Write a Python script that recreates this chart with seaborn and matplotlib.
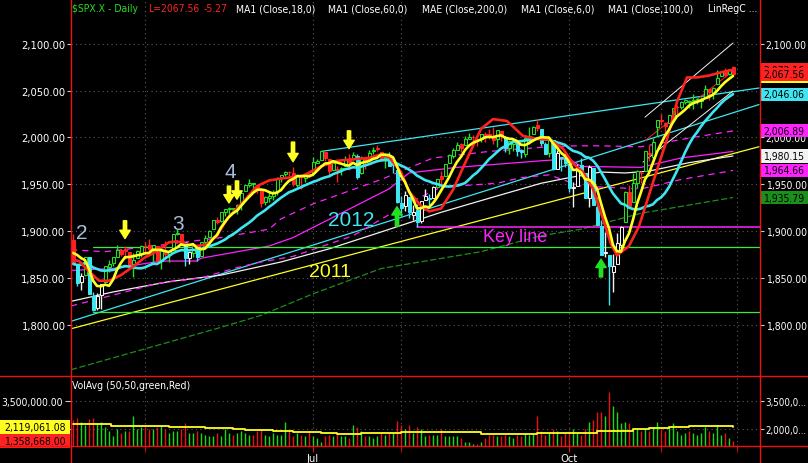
import numpy as np
import pandas as pd
import matplotlib
matplotlib.use('Agg')
import matplotlib.pyplot as plt
import matplotlib.transforms as mtransforms
from matplotlib.patches import Rectangle
from matplotlib.lines import Line2D
from matplotlib import font_manager
import seaborn as sns

# ---- values: $SPX.X daily, 2014-04-04 .. 2014-11-28 ----
# closes just before the window, only needed to start the 6 and 18 day averages
prior_closes = [1877.17, 1867.63, 1868.20, 1846.34, 1841.13, 1858.83, 1872.25, 1860.77, 1872.01, 1866.52,
                1857.44, 1865.62, 1852.56, 1849.04, 1857.62, 1872.34, 1885.52, 1890.90, 1888.77]

opens = [
    1890.9, 1863.9, 1845.5, 1852.6, 1872.3, 1830.7, 1818.2, 1831.4, 1846.0, 1861.7, 1865.8, 1872.6, 1879.3, 1881.0, 1877.7, 1865.0, 1870.8, 1877.1,
    1884.4, 1885.3, 1879.5, 1883.7, 1868.5, 1877.4, 1875.3, 1880.0, 1896.8, 1897.1, 1888.2, 1871.2, 1876.7, 1884.9, 1873.3, 1888.2, 1893.3, 1902.0, 1911.8, 1910.6, 1920.3,
    1923.9, 1923.1, 1923.1, 1928.5, 1942.4, 1948.9, 1950.3, 1949.4, 1943.4, 1930.8, 1934.8, 1937.2, 1942.7, 1957.5, 1960.5, 1962.9, 1961.6, 1949.3, 1959.9, 1956.6, 1960.8,
    1962.3, 1973.1, 1975.9, 1984.2, 1976.4, 1965.1, 1966.7, 1965.8, 1969.9, 1977.4, 1976.4, 1979.8, 1961.5, 1976.9, 1975.7, 1985.3, 1988.1, 1984.6, 1978.3, 1980.0, 1973.2, 1965.1,
    1929.8, 1926.6, 1936.3, 1917.3, 1923.0, 1910.4, 1933.4, 1935.7, 1935.6, 1947.4, 1958.9, 1958.4, 1972.7, 1980.5, 1986.8, 1992.6, 1991.7, 1998.6, 2000.5, 1997.4, 1998.5,
    2004.1, 2003.6, 2001.7, 1998.0, 2007.2, 2000.7, 1988.4, 1992.9, 1996.7, 1986.0, 1981.9, 1999.3, 2003.1, 2012.7, 2009.1, 1992.8, 1983.3, 1997.3, 1966.2, 1978.0, 1978.2,
    1971.4, 1945.8, 1948.1, 1970.0, 1962.4, 1935.6, 1967.7, 1925.6, 1905.7, 1877.1, 1874.2, 1855.9, 1864.9, 1885.6, 1909.4, 1941.3, 1931.0, 1951.6, 1962.0, 1964.1, 1983.3, 1979.5, 2011.1,
    2018.2, 2015.8, 2015.3, 2023.3, 2032.4, 2032.0, 2038.2, 2037.8, 2039.2, 2039.7, 2038.3, 2041.5, 2051.2, 2045.9, 2057.5, 2065.1, 2070.2, 2067.4, 2074.8,
]
highs = [
    1897.3, 1864.0, 1854.9, 1872.4, 1872.5, 1835.1, 1834.2, 1844.0, 1862.3, 1869.6, 1871.9, 1884.9, 1879.8, 1884.1, 1877.7, 1877.0, 1880.0, 1885.2,
    1888.6, 1891.3, 1885.5, 1883.7, 1878.8, 1889.1, 1878.8, 1897.1, 1902.2, 1897.1, 1888.2, 1878.3, 1886.0, 1884.9, 1888.8, 1896.3, 1901.3, 1912.3, 1914.5, 1920.0, 1924.0,
    1925.9, 1925.1, 1928.6, 1941.7, 1949.4, 1955.6, 1950.9, 1949.4, 1943.4, 1937.3, 1941.2, 1943.7, 1957.7, 1959.9, 1963.9, 1963.7, 1968.2, 1960.8, 1959.9, 1961.0, 1962.3,
    1978.6, 1976.7, 1985.6, 1984.2, 1976.4, 1974.2, 1969.8, 1968.7, 1979.8, 1982.5, 1983.9, 1981.8, 1979.9, 1976.9, 1986.2, 1989.2, 1991.4, 1984.6, 1981.5, 1984.9, 1978.9, 1965.1,
    1937.4, 1942.9, 1936.3, 1927.9, 1928.9, 1932.4, 1944.9, 1939.7, 1948.4, 1955.2, 1964.0, 1971.9, 1982.6, 1988.6, 1994.8, 1993.5, 2001.9, 2005.0, 2002.1, 1998.6, 2003.4,
    2006.1, 2009.3, 2011.2, 2007.7, 2007.2, 2001.0, 1996.7, 1997.7, 1996.7, 1987.2, 2002.3, 2010.7, 2012.3, 2019.3, 2009.1, 1995.4, 1999.8, 1997.3, 1986.4, 1978.8, 1985.2,
    1971.4, 1952.3, 1971.2, 1977.8, 1962.4, 1970.4, 1967.7, 1936.0, 1912.1, 1898.7, 1874.2, 1876.0, 1898.2, 1905.0, 1942.5, 1949.3, 1961.9, 1965.3, 1964.6, 1985.1, 1991.4, 1999.4, 2018.2,
    2024.5, 2016.0, 2023.8, 2031.6, 2034.3, 2038.7, 2041.3, 2040.3, 2046.2, 2042.2, 2043.1, 2056.1, 2052.1, 2053.8, 2071.5, 2070.2, 2074.2, 2073.3, 2075.8,
]
lows = [
    1863.3, 1841.5, 1837.5, 1852.4, 1833.0, 1814.4, 1815.8, 1816.3, 1846.0, 1856.7, 1863.2, 1872.6, 1873.9, 1870.2, 1859.7, 1850.6, 1870.8, 1872.7,
    1878.0, 1878.5, 1866.8, 1867.7, 1859.8, 1870.0, 1867.0, 1880.0, 1896.1, 1885.8, 1862.4, 1864.8, 1872.4, 1868.1, 1873.3, 1885.4, 1893.3, 1902.0, 1907.3, 1909.8, 1916.6,
    1915.9, 1918.8, 1918.6, 1922.9, 1942.4, 1947.2, 1944.6, 1940.1, 1925.8, 1927.7, 1930.9, 1933.6, 1938.2, 1952.3, 1959.2, 1958.9, 1948.3, 1947.5, 1944.7, 1952.2, 1957.6,
    1962.3, 1972.6, 1975.9, 1974.9, 1959.5, 1965.1, 1952.9, 1959.6, 1969.9, 1965.3, 1975.7, 1955.6, 1960.8, 1965.8, 1975.7, 1982.4, 1985.8, 1974.4, 1967.3, 1969.9, 1962.4, 1930.0,
    1916.4, 1921.2, 1913.8, 1911.5, 1904.8, 1909.0, 1933.4, 1928.3, 1935.6, 1947.4, 1941.5, 1958.4, 1972.7, 1977.7, 1986.8, 1984.8, 1991.7, 1998.6, 1996.2, 1990.5, 1994.7,
    1994.9, 1998.1, 1992.4, 1990.1, 1995.6, 1984.6, 1982.3, 1985.9, 1980.3, 1978.5, 1979.1, 1993.3, 2003.1, 2006.6, 1991.0, 1982.4, 1978.6, 1965.7, 1966.2, 1964.1, 1968.0,
    1941.7, 1926.0, 1948.1, 1958.4, 1935.1, 1925.2, 1927.6, 1906.1, 1874.1, 1871.8, 1820.7, 1835.0, 1864.9, 1882.3, 1909.4, 1927.1, 1931.0, 1946.3, 1951.4, 1964.1, 1974.8, 1974.2, 2001.0,
    2013.7, 2001.0, 2015.3, 2015.9, 2025.1, 2030.2, 2035.3, 2031.3, 2030.4, 2035.2, 2031.2, 2041.5, 2040.4, 2040.5, 2056.8, 2065.1, 2064.8, 2066.6, 2065.1,
]
closes = [
    1865.09, 1845.04, 1851.96, 1872.18, 1833.08, 1815.69, 1830.61, 1842.98, 1862.31, 1864.85, 1871.89, 1879.55, 1875.39, 1878.61, 1863.40, 1869.43, 1878.33, 1883.95,
    1883.68, 1881.14, 1884.66, 1867.72, 1878.21, 1875.63, 1878.48, 1896.65, 1897.45, 1888.53, 1870.85, 1877.86, 1885.08, 1872.83, 1888.03, 1892.49, 1900.53, 1911.91, 1909.78, 1920.03, 1923.57,
    1924.97, 1924.24, 1927.88, 1940.46, 1949.44, 1951.27, 1950.79, 1943.89, 1930.11, 1936.16, 1937.78, 1941.99, 1956.98, 1959.48, 1962.87, 1962.61, 1949.98, 1959.53, 1957.22, 1960.96, 1960.23,
    1973.32, 1974.62, 1985.44, 1977.65, 1963.71, 1972.83, 1964.68, 1967.57, 1977.10, 1973.28, 1981.57, 1958.12, 1978.22, 1973.63, 1983.53, 1987.01, 1987.98, 1978.34, 1978.91, 1969.95, 1970.07, 1930.67,
    1925.15, 1938.99, 1920.21, 1920.24, 1909.57, 1931.59, 1936.92, 1933.75, 1946.72, 1955.18, 1955.06, 1971.74, 1981.60, 1986.51, 1992.37, 1988.40, 1997.92, 2000.02, 2000.12, 1996.74, 2003.37,
    2002.28, 2000.72, 1997.65, 2007.71, 2001.54, 1988.44, 1995.69, 1997.45, 1985.54, 1984.13, 1998.98, 2001.57, 2011.36, 2010.40, 1994.29, 1982.77, 1998.30, 1965.99, 1982.85, 1977.80, 1972.29,
    1946.16, 1946.17, 1967.90, 1964.82, 1935.10, 1968.89, 1928.21, 1906.13, 1874.74, 1877.70, 1862.49, 1862.76, 1886.76, 1904.01, 1941.28, 1927.11, 1950.82, 1964.58, 1961.63, 1985.05, 1982.30, 1994.65, 2018.05,
    2017.81, 2012.10, 2023.57, 2031.21, 2031.92, 2038.26, 2039.68, 2038.25, 2039.33, 2039.82, 2041.32, 2051.80, 2048.72, 2052.75, 2063.50, 2069.41, 2067.03, 2072.83, 2067.56,
]
# volume in millions (chart units)
volume_m = [
    2.5, 2.6, 2.4, 2.2, 2.55, 2.6, 2.3, 2.4, 2.1, 1.9, 1.6, 2.0, 1.8, 1.9, 1.9, 2.7, 2.0, 2.1,
    2.1, 2.0, 2.0, 2.1, 2.2, 2.0, 1.8, 1.9, 1.9, 2.0, 2.3, 1.8, 1.8, 1.9, 1.8, 1.7, 1.6, 1.6, 1.8, 1.6, 2.0,
    1.8, 1.7, 1.8, 1.9, 1.8, 1.7, 1.7, 1.9, 2.0, 1.7, 1.6, 1.8, 1.7, 1.7, 2.35, 1.9, 1.6, 1.8, 1.7, 1.6, 1.9,
    1.6, 1.5, 1.3, 1.6, 1.7, 1.6, 1.8, 1.6, 1.6, 1.5, 2.2, 2.1, 1.9, 1.6, 1.6, 1.5, 1.6, 1.8, 1.7, 1.8, 1.8, 2.45,
    2.2, 2.0, 2.2, 1.8, 2.1, 2.0, 1.6, 1.7, 1.7, 1.7, 2.0, 1.6, 1.6, 1.6, 1.6, 1.5, 1.3, 1.3, 1.2, 1.2, 1.3,
    1.5, 1.7, 1.7, 1.6, 1.6, 1.7, 1.6, 1.5, 1.7, 1.6, 1.8, 1.7, 1.8, 2.7, 1.9, 1.7, 1.8, 2.0, 1.9, 1.6, 1.8,
    1.9, 2.0, 1.8, 1.7, 2.0, 2.4, 2.5, 2.9, 2.9, 2.7, 4.0, 3.25, 2.9, 2.3, 2.4, 2.3, 2.0, 2.0, 1.9, 2.0, 1.9, 2.1, 2.35,
    2.0, 1.9, 2.1, 2.3, 1.9, 1.7, 1.8, 1.9, 1.8, 1.7, 1.8, 2.1, 1.9, 1.8, 2.2, 1.7, 1.8, 1.5, 1.358668,
]
volavg_i = [0, 9.5, 24, 33, 40, 43, 50, 55, 62, 66, 72, 82, 95, 102, 116, 124, 131, 140, 144, 149, 154, 165]
volavg_v = [2.27, 2.14, 2.09, 2.03, 2.0, 1.94, 1.87, 1.82, 1.78, 1.73, 1.77, 1.86, 1.82, 1.73, 1.77, 1.78,
            1.87, 2.0, 2.04, 2.09, 2.14, 2.11906108]

# indicator lines that need more history than the window: (bar index, price)
red_i = [-0.5, 1.5, 4, 6.5, 9, 12, 15, 18, 20, 24, 26, 28.5, 31, 33.5, 36, 38.5, 42.5, 46, 49, 52, 57.5, 62, 66,
         71, 74, 77, 79, 82, 84, 87, 89, 92, 95, 98.5, 102, 105, 108.5, 112.5, 116.5, 119, 122.5, 125, 127.5,
         130, 132.5, 134.5, 136, 139, 141.5, 145, 148.5, 151, 153.5, 156, 159, 162.5, 165]
red_v = [1870, 1868, 1857, 1847, 1847, 1853, 1862, 1872, 1876, 1888, 1889, 1886, 1884, 1886, 1895, 1913, 1931,
         1948, 1954, 1956, 1959, 1969, 1975, 1977, 1978, 1982, 1979, 1963, 1942, 1927, 1921, 1924, 1944, 1977,
         2009, 2019.5, 2017.5, 2001.5, 1998, 1998, 1988, 1972, 1963, 1945, 1913, 1886, 1874, 1884, 1905, 1952,
         1998, 2038, 2064, 2064, 2066, 2070, 2072.16]
ma100_i = [-0.5, 10, 24, 37, 52, 64, 77, 87, 92, 104, 117, 124, 132, 138, 144, 154, 165]
ma100_v = [1825, 1835, 1846, 1853, 1867, 1881, 1899, 1913, 1920, 1935, 1951, 1957, 1963, 1962, 1964, 1973, 1980.15]
ma200_i = [-0.5, 36, 47, 60, 77, 102, 117, 127, 142, 165]
ma200_v = [1752, 1796, 1810, 1833, 1860, 1878, 1895, 1902, 1919, 1935.79]
env_up_i = [-0.5, 8, 20, 37, 49, 52, 60, 77, 90, 104, 119, 126, 131, 142, 155, 165]
env_up_v = [1880, 1878, 1884, 1893, 1902, 1913, 1929, 1955, 1978, 1985, 1990, 1991, 1991, 1990, 2000, 2006.89]
env_mid_i = [-0.5, 10, 22, 31, 32, 49, 55, 79, 84, 96, 117, 124, 127, 142, 152, 165]
env_mid_v = [1858, 1860, 1868, 1868, 1871, 1884, 1893, 1945, 1962, 1968, 1975, 1977, 1969, 1968, 1978, 1985]
env_lo_i = [-0.5, 13, 21, 32, 41, 47, 55, 70, 84, 92, 106, 112, 119, 127, 142, 152, 165]
env_lo_v = [1820, 1835, 1844, 1850, 1861, 1867, 1873, 1895, 1930, 1947, 1951, 1957, 1960, 1948, 1945, 1955, 1964.66]

# hand drawn lines
line_2011 = ([-0.25, 171.5], [1796, 1990])
line_2012 = ([-0.25, 171.5], [1804, 2035])
channel_top = ([62, 171.5], [1985, 2052.7])
linreg_up = ([143, 165], [2021.6, 2100.7])
linreg_mid = ([143, 165], [1996.5, 2071])
linreg_lo = ([142.5, 165], [1973.6, 2049.5])
support_levels = [1883.4, 1813.7]
key_level = 1904.5
key_start = 86

wave_labels = [('2', 2.3, 1899), ('3', 26.3, 1908), ('4', 39.3, 1964)]
down_arrows = [(13, 1911, 1892), (39, 1948, 1930), (41, 1953.5, 1934), (55, 1995, 1974), (69, 2007, 1988)]
up_arrows = [(81, 1905, 1926), (132, 1851, 1870)]

# ---- style ----
sns.set_style('dark', {'axes.facecolor': 'black', 'figure.facecolor': 'black', 'axes.grid': False})
installed = {f.name for f in font_manager.fontManager.ttflist}
plain = 'Liberation Sans' if 'Liberation Sans' in installed else 'DejaVu Sans'
plt.rcParams['font.family'] = ['DejaVu Sans']
plt.rcParams['font.stretch'] = 'condensed'

GREEN = '#22e022'
RED = '#ff2222'
CYAN = '#3ee6f2'
YELLOW = '#ffff22'
WHITE = '#f2f2f2'
MAGENTA = '#ff22ff'
DKGREEN = '#1b8f1b'
FRAME = '#ee1111'
GRID = '#5a5a5a'
FS = 7.5

n = len(closes)
idx = np.arange(n)
o = np.array(opens)
h = np.array(highs)
l = np.array(lows)
c = np.array(closes)

all_close = pd.Series(prior_closes + closes)
ma6 = all_close.rolling(6).mean().to_numpy()[len(prior_closes):]
ma18 = all_close.rolling(18).mean().to_numpy()[len(prior_closes):]

dates = pd.bdate_range('2014-04-04', '2014-11-28')
holidays = pd.to_datetime(['2014-04-18', '2014-05-26', '2014-07-04', '2014-09-01', '2014-11-27'])
dates = dates[~dates.isin(holidays)]
months = dates.month
month_starts = {months[i]: i for i in range(1, n) if months[i] != months[i - 1]}
major_ticks = [month_starts[7], month_starts[10]]
minor_ticks = [month_starts[5], month_starts[8], month_starts[11], n]

fig = plt.figure(figsize=(8.08, 4.64), dpi=100)
L = 71 / 808
W = 689 / 808
ax = fig.add_axes([L, 87 / 464, W, 377 / 464])
axv = fig.add_axes([L, 17 / 464, W, 70 / 464])
XL = (-0.5, 171.75)

# ---- price panel ----
ax.set_xlim(*XL)
ax.set_ylim(1745.3, 2147.7)
price_ticks = np.arange(1800, 2101, 50)
ax.set_yticks(price_ticks)
ax.set_yticklabels([f'{v:,.2f}' for v in price_ticks])
ax.set_xticks([])
ax.tick_params(axis='y', left=True, right=True, labelleft=True, labelright=True, length=4,
               color='#c8c8c8', labelcolor='white', labelsize=FS + 0.5, pad=2)
ax.tick_params(axis='y', which='major', right=True, length=3, pad=1)
for t in ax.yaxis.get_major_ticks():
    t.label2.set_fontsize(FS)
for s in ax.spines.values():
    s.set_visible(False)
for v in price_ticks:
    ax.axhline(v, color=GRID, lw=0.8, ls=(0, (1, 3)), zorder=0.5)
for t in major_ticks + minor_ticks:
    ax.axvline(t, color=GRID, lw=0.8, ls=(0, (1, 3)), zorder=0.5)

# thin lines behind the candles
ax.plot(*line_2011, color=YELLOW, lw=0.9, zorder=2)
ax.plot(*line_2012, color=CYAN, lw=0.9, zorder=2)
ax.plot(*channel_top, color=CYAN, lw=0.9, zorder=2)
ax.plot(ma100_i, ma100_v, color=WHITE, lw=0.9, zorder=2)
ax.plot(ma200_i, ma200_v, color=DKGREEN, lw=0.9, ls=(0, (5, 2)), zorder=2)
ax.plot(env_mid_i, env_mid_v, color=MAGENTA, lw=0.9, zorder=2)
ax.plot(env_up_i, env_up_v, color=MAGENTA, lw=0.9, ls=(0, (5, 4)), zorder=2)
ax.plot(env_lo_i, env_lo_v, color=MAGENTA, lw=0.9, ls=(0, (5, 4)), zorder=2)
ax.plot(*linreg_up, color=WHITE, lw=0.7, zorder=2)
ax.plot(*linreg_lo, color=WHITE, lw=0.7, zorder=2)
ax.plot(*linreg_mid, color=RED, lw=0.7, zorder=2)
for lvl in support_levels:
    ax.plot([5, XL[1]], [lvl, lvl], color='#33ee33', lw=0.9, zorder=2)
ax.plot([key_start, XL[1]], [key_level, key_level], color=MAGENTA, lw=1.1, zorder=2)

# candles
up = c >= o
below = c < ma18
cols = np.where(up, np.where(below, WHITE, GREEN), np.where(below, CYAN, RED))
faces = np.where(up, 'black', cols)
body_lo = np.minimum(o, c)
body_h = np.maximum(np.abs(c - o), 0.8)
ax.vlines(idx, l, h, colors=list(cols), lw=1.0, zorder=3)
ax.bar(idx, body_h, bottom=body_lo, width=0.75, color=list(faces), edgecolor=list(cols),
       linewidth=0.75, zorder=3.2)

# thick averages
sns.lineplot(x=idx, y=ma18, color=CYAN, linewidth=1.9, ax=ax, zorder=4.2)
sns.lineplot(x=red_i, y=red_v, color=RED, linewidth=1.9, ax=ax, zorder=4.3)
sns.lineplot(x=idx, y=ma6, color=YELLOW, linewidth=1.9, ax=ax, zorder=4.4)

# annotations
big = dict(family=plain, stretch='normal', ha='center', va='center', zorder=5)
for txt, xi, yv in wave_labels:
    ax.text(xi, yv, txt, color='#a8bedc', fontsize=15, **big)
ax.text(69.5, 1912.7, '2012', color=CYAN, fontsize=15, **big)
ax.text(64.3, 1856.4, '2011', color=YELLOW, fontsize=14, **big)
ax.text(110.5, 1894.5, 'Key line', color=MAGENTA, fontsize=13, **big)
for xi, tail, tip in down_arrows:
    ax.annotate('', xy=(xi, tip), xytext=(xi, tail), zorder=5,
                arrowprops=dict(facecolor=YELLOW, edgecolor=YELLOW, width=2.4, headwidth=7.5, headlength=6))
for xi, tail, tip in up_arrows:
    ax.annotate('', xy=(xi, tip), xytext=(xi, tail), zorder=5,
                arrowprops=dict(facecolor=GREEN, edgecolor=GREEN, width=2.4, headwidth=7.5, headlength=6))

# value tags on the right price scale
blend = mtransforms.blended_transform_factory(ax.transAxes, ax.transData)
tags = [(ma6[-1], YELLOW), (red_v[-1], RED), (closes[-1], RED), (ma18[-1], CYAN),
        (env_up_v[-1], MAGENTA), (ma100_v[-1], WHITE), (env_lo_v[-1], MAGENTA), (ma200_v[-1], DKGREEN)]
z = 6
for val, col in tags:
    ax.add_patch(Rectangle((1.0, val - 7.0), 48 / 689, 14.0, transform=blend, facecolor=col,
                           edgecolor='none', clip_on=False, zorder=z))
    ax.text(1.0 + 3 / 689, val, f'{val:,.2f}', transform=blend, ha='left', va='center', fontsize=FS,
            color='black', clip_on=False, zorder=z + 0.5)
    z += 1

# header
hy = 1 - 9 / 464
change = closes[-1] - closes[-2]
header = [('$SPX.X - Daily', 72, '#22dd22'), (f'L={closes[-1]:.2f}', 148, RED), (f'{change:.2f}', 204, RED),
          ('MA1 (Close,18,0)', 236, 'white'), ('MA1 (Close,60,0)', 328, 'white'),
          ('MAE (Close,200,0)', 422, 'white'), ('MA1 (Close,6,0)', 521, 'white'),
          ('MA1 (Close,100,0)', 608, 'white'), ('LinRegC ...', 708, 'white')]
for txt, px, col in header:
    fig.text(px / 808, hy, txt, color=col, fontsize=FS, va='center', ha='left')

# ---- volume panel ----
vb, vt = 1.091, 4.837
axv.set_xlim(*XL)
axv.set_ylim(vb, vt)
for s in axv.spines.values():
    s.set_visible(False)
prev = np.array([prior_closes[-1]] + closes[:-1])
vcols = np.where(c >= prev, '#11dd11', '#ee1111')
axv.vlines(idx, vb, volume_m, colors=list(vcols), lw=1.0, zorder=3)
axv.step(volavg_i, volavg_v, where='post', color=YELLOW, lw=1.3, zorder=4)
for v in (2.0, 3.5):
    axv.axhline(v, color=GRID, lw=0.8, ls=(0, (1, 3)), zorder=0.5)
for t in major_ticks + minor_ticks:
    axv.axvline(t, color=GRID, lw=0.8, ls=(0, (1, 3)), zorder=0.5)
axv.set_yticks([2.0, 3.5])
axv.set_yticklabels(['2,000,000.00', '3,500,000.00'])
axv.tick_params(axis='y', left=True, length=4, color='#c8c8c8', labelcolor='white', labelsize=FS, pad=2)
axv.set_xticks(major_ticks)
axv.set_xticklabels(['Jul', 'Oct'])
axv.set_xticks(minor_ticks, minor=True)
axv.tick_params(axis='x', which='both', bottom=True, length=4, color=FRAME, labelcolor='white',
                labelsize=FS + 0.5, pad=1)
axr = axv.twinx()
axr.set_ylim(vb, vt)
for s in axr.spines.values():
    s.set_visible(False)
axr.set_yticks([2.0, 3.5])
axr.set_yticklabels(['2,000,0...', '3,500,0...'])
axr.tick_params(axis='y', right=True, length=3, color='#c8c8c8', labelcolor='white', labelsize=FS - 0.5, pad=1)
axr.grid(False)
axv.grid(False)

vblend = mtransforms.blended_transform_factory(axv.transAxes, axv.transData)
bh = 14 / 70 * (vt - vb)
for val, col in [(volavg_v[-1], YELLOW), (volume_m[-1], RED)]:
    axv.add_patch(Rectangle((-71 / 689, val - bh / 2), 70 / 689, bh, transform=vblend, facecolor=col,
                            edgecolor='none', clip_on=False, zorder=6))
    axv.text(-36 / 689, val, f'{val * 1e6:,.2f}', transform=vblend, ha='center', va='center', fontsize=FS,
             color='black', clip_on=False, zorder=7)
axv.text(1 / 689, 0.87, 'VolAvg (50,50,green,Red)', transform=axv.transAxes, color='white', fontsize=FS,
         ha='left', va='center')

# red frame lines
for yy in (1 - 377 / 464, 1 - 447 / 464):
    fig.add_artist(Line2D([0, 1], [yy, yy], color=FRAME, lw=1.0, transform=fig.transFigure))
for xx in (71 / 808, 759.5 / 808):
    fig.add_artist(Line2D([xx, xx], [0.0, 1.0], color=FRAME, lw=1.0, transform=fig.transFigure))

fig.savefig('out.png', dpi=100, facecolor='black')
